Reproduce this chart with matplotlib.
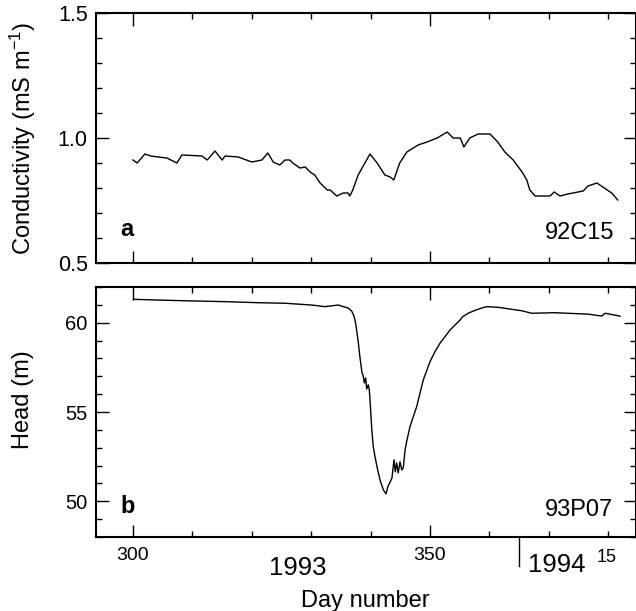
import matplotlib
matplotlib.use("Agg")
import matplotlib.pyplot as plt
import matplotlib.transforms as mtransforms
from matplotlib.ticker import MultipleLocator

plt.rcParams['font.family'] = ['Liberation Sans', 'DejaVu Sans']
plt.rcParams['mathtext.fontset'] = 'custom'
plt.rcParams['mathtext.rm'] = 'Liberation Sans'
plt.rcParams['mathtext.it'] = 'Liberation Sans'

# Panel a: electrical conductivity at 92C15 (mS/m), continuous day number
cond_day = [300.0, 300.7, 302.0, 303.0, 304.2, 305.7, 307.4, 308.2, 310.0, 311.6,
            312.5, 313.8, 315.0, 315.5, 317.7, 320.0, 321.7, 322.7, 323.6, 324.7,
            325.6, 326.4, 326.9, 328.1, 329.0, 329.8, 330.6, 331.5, 332.7, 333.2,
            334.3, 335.4, 336.2, 336.5, 337.0, 337.9, 339.9, 341.1, 342.4, 343.3,
            343.9, 344.9, 346.1, 348.0, 349.5, 351.2, 352.9, 353.9, 355.1, 355.7,
            356.7, 358.1, 360.1, 361.4, 362.6, 364.0, 365.5, 366.3, 366.8, 367.7,
            370.2, 370.9, 371.9, 373.2, 375.8, 376.6, 378.1, 379.1, 380.6, 381.6]
cond_val = [0.912, 0.900, 0.936, 0.928, 0.924, 0.920, 0.900, 0.932, 0.930, 0.928,
            0.912, 0.948, 0.912, 0.928, 0.924, 0.904, 0.912, 0.940, 0.904, 0.892,
            0.912, 0.912, 0.900, 0.880, 0.884, 0.864, 0.852, 0.820, 0.792, 0.792,
            0.768, 0.780, 0.780, 0.768, 0.792, 0.852, 0.936, 0.900, 0.852, 0.844,
            0.832, 0.900, 0.944, 0.972, 0.984, 1.000, 1.024, 1.000, 1.000, 0.964,
            1.000, 1.016, 1.016, 0.984, 0.944, 0.912, 0.864, 0.832, 0.792, 0.768,
            0.768, 0.784, 0.768, 0.776, 0.788, 0.808, 0.820, 0.804, 0.780, 0.752]

# Panel b: hydraulic head at 93P07 (m)
head_day = [300.05, 304.26, 309.88, 315.49, 321.1, 325.59, 330.08, 332.32, 334.56, 335.4,
            336.2, 336.8, 337.2, 337.5, 337.9, 338.2, 338.55, 338.72, 338.94, 339.17,
            339.34, 339.61, 339.78, 339.9, 340.2, 340.45, 340.74, 341.13, 341.58, 342.14,
            342.6, 342.9, 343.6, 343.94, 344.16, 344.39, 344.65, 344.95, 345.24, 345.5,
            345.8, 346.13, 346.63, 347.19, 347.76, 348.87, 350.0, 350.84, 351.68, 352.53,
            353.37, 354.21, 355.05, 355.5, 356.6, 357.74, 358.87, 359.55, 361.5, 365.44,
            367.12, 371.04, 376.65, 378.9, 379.46, 381.99]
head_val = [61.31, 61.27, 61.22, 61.18, 61.12, 61.09, 60.99, 60.90, 60.99, 60.90,
            60.83, 60.66, 60.38, 59.93, 58.98, 58.08, 57.19, 57.08, 56.63, 56.91,
            56.29, 56.52, 56.24, 55.68, 54.00, 53.06, 52.50, 51.85, 51.20, 50.64,
            50.42, 50.81, 51.31, 52.32, 51.65, 52.15, 51.59, 52.21, 51.76, 51.87,
            52.88, 53.44, 54.18, 54.74, 55.30, 56.80, 57.82, 58.38, 58.85, 59.22,
            59.59, 59.87, 60.15, 60.34, 60.56, 60.71, 60.84, 60.90, 60.86, 60.67,
            60.53, 60.56, 60.48, 60.37, 60.53, 60.37]

W, H = 636, 611
fig = plt.figure(figsize=(W / 100, H / 100), dpi=100)


def box(left, top, right, bottom):
    return [left / W, 1 - bottom / H, (right - left) / W, (bottom - top) / H]


ax1 = fig.add_axes(box(96, 13, 636, 263))
ax2 = fig.add_axes(box(96, 287, 636, 537))

for ax in (ax1, ax2):
    ax.set_xlim(293.77, 384.68)
    ax.xaxis.set_major_locator(MultipleLocator(50))
    ax.xaxis.set_minor_locator(MultipleLocator(10))
    ax.tick_params(which='both', direction='in', top=True, right=True, width=1)
    ax.tick_params(which='major', length=9)
    ax.tick_params(which='minor', length=4.5)
    for s in ax.spines.values():
        s.set_linewidth(1.5)

ax1.plot(cond_day, cond_val, color='black', lw=1.0)
ax1.set_ylim(0.5, 1.5)
ax1.yaxis.set_major_locator(MultipleLocator(0.5))
ax1.yaxis.set_minor_locator(MultipleLocator(0.1))
ax1.set_yticks([0.5, 1.0, 1.5], ['0.5', '1.0', '1.5'])
ax1.tick_params(axis='y', labelsize=15.5, pad=6)
ax1.tick_params(axis='x', labelbottom=False)
ax1.text(0.045, 0.11, 'a', transform=ax1.transAxes, fontsize=17, fontweight='bold')
ax1.text(0.96, 0.095, '92C15', transform=ax1.transAxes, fontsize=17, ha='right')

ax2.plot(head_day, head_val, color='black', lw=1.0)
ax2.set_ylim(48, 62)
ax2.yaxis.set_major_locator(MultipleLocator(5))
ax2.yaxis.set_minor_locator(MultipleLocator(1))
ax2.tick_params(axis='y', labelsize=14.5, pad=6)
ax2.set_xticks([300, 350], ['300', '350'])
ax2.tick_params(axis='x', labelsize=14, pad=7)
ax2.text(0.045, 0.095, 'b', transform=ax2.transAxes, fontsize=17, fontweight='bold')
ax2.text(0.958, 0.085, '93P07', transform=ax2.transAxes, fontsize=17, ha='right')

# year labels and the year boundary below the day axis
trans = mtransforms.blended_transform_factory(ax2.transData, ax2.transAxes)
ax2.plot([365, 365], [0, -0.115], color='black', lw=1, transform=trans, clip_on=False)
ax2.text(327.8, -0.152, '1993', transform=trans, fontsize=18.5, ha='center', va='baseline')
ax2.text(371.4, -0.14, '1994', transform=trans, fontsize=18.5, ha='center', va='baseline')
ax2.text(379.8, -0.1, '15', transform=trans, fontsize=13, ha='center', va='baseline')

fig.text(365 / W, 1 - 607 / H, 'Day number', fontsize=17, ha='center', va='baseline')
fig.text(23 / W, 1 - 138 / H, r'Conductivity (mS m$^{-1}$)', fontsize=17,
         rotation=90, ha='center', va='center')
fig.text(23 / W, 1 - 400 / H, 'Head (m)', fontsize=17, rotation=90, ha='center', va='center')

fig.savefig('out.png', dpi=100)
